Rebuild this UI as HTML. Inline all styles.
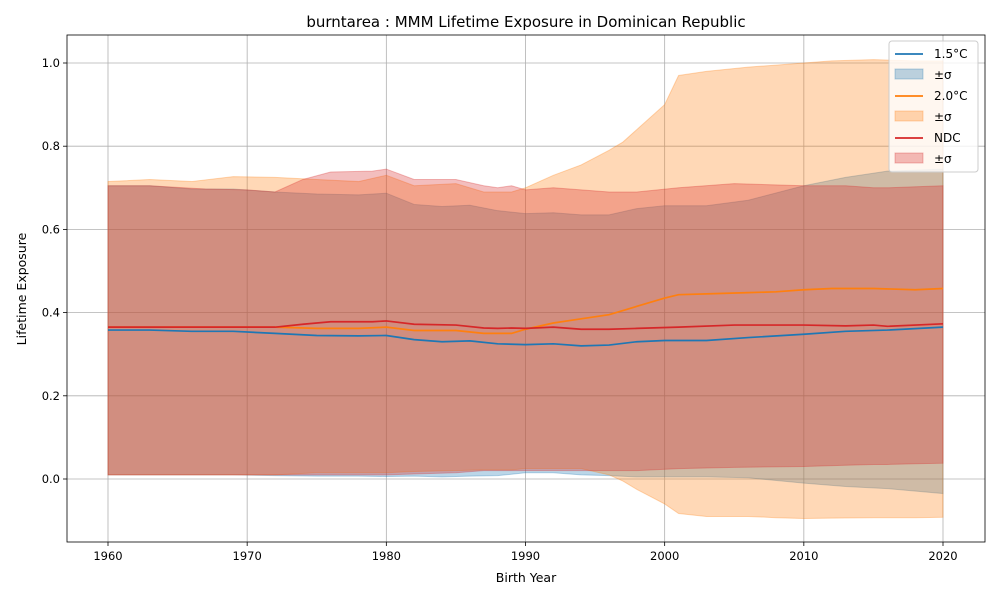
<!DOCTYPE html>
<html><head><meta charset="utf-8"><style>
body{margin:0;background:#fff;font-family:"Liberation Sans","DejaVu Sans",sans-serif}
svg text{font-family:"DejaVu Sans","Liberation Sans",sans-serif}
</style></head><body>
<svg id="chart" width="1000" height="600" xmlns="http://www.w3.org/2000/svg">
<rect width="1000" height="600" fill="#fff"/>
<text x="526" y="27" text-anchor="middle" font-size="15">burntarea : MMM Lifetime Exposure in Dominican Republic</text>
<g id="grid"></g><g id="bands"></g><g id="lines"></g><g id="axes"></g>
<text x="526" y="582" text-anchor="middle" font-size="12.5">Birth Year</text>
<text transform="translate(26,289) rotate(-90)" text-anchor="middle" font-size="12.5">Lifetime Exposure</text>
<g id="legend"></g>
</svg>
<script>
const xTicks=[1960,1970,1980,1990,2000,2010,2020];
const yTicks=[0.0,0.2,0.4,0.6,0.8,1.0];
const yTickLabels=["0.0","0.2","0.4","0.6","0.8","1.0"];
const seriesNames=["1.5°C","2.0°C","NDC"];
const yearsA=[1960,1963,1966,1969,1972,1975,1978,1980,1982,1984,1986,1988,1990,1992,1994,1996,1998,2000,2003,2006,2010,2013,2016,2020];
const mean15=[0.358,0.358,0.355,0.355,0.35,0.345,0.344,0.345,0.335,0.33,0.332,0.325,0.323,0.325,0.32,0.322,0.33,0.333,0.333,0.34,0.348,0.355,0.358,0.365];
const up15=[0.705,0.705,0.697,0.697,0.69,0.685,0.683,0.687,0.66,0.655,0.658,0.645,0.638,0.64,0.635,0.635,0.65,0.657,0.657,0.67,0.705,0.725,0.74,0.745];
const lo15=[0.01,0.01,0.01,0.01,0.008,0.007,0.007,0.006,0.007,0.005,0.007,0.008,0.015,0.015,0.01,0.008,0.005,0.005,0.005,0.003,-0.01,-0.018,-0.023,-0.035];
const yearsB=[1960,1963,1966,1969,1972,1975,1978,1980,1982,1985,1987,1989,1990,1992,1994,1996,1997,1998,2000,2001,2003,2006,2008,2010,2012,2015,2018,2020];
const mean20=[0.365,0.365,0.365,0.365,0.365,0.362,0.362,0.365,0.357,0.357,0.35,0.35,0.36,0.375,0.385,0.395,0.405,0.415,0.435,0.443,0.445,0.448,0.45,0.455,0.458,0.458,0.455,0.458];
const up20=[0.715,0.72,0.715,0.727,0.725,0.72,0.715,0.73,0.705,0.71,0.69,0.69,0.70,0.73,0.755,0.79,0.81,0.84,0.90,0.97,0.98,0.99,0.995,1.0,1.005,1.008,1.005,1.005];
const lo20=[0.01,0.01,0.01,0.01,0.01,0.015,0.015,0.015,0.018,0.02,0.022,0.022,0.025,0.025,0.025,0.01,-0.005,-0.025,-0.06,-0.083,-0.09,-0.09,-0.093,-0.095,-0.094,-0.093,-0.093,-0.092];
const yearsC=[1960,1963,1967,1970,1972,1974,1976,1979,1980,1982,1985,1987,1988,1989,1990,1992,1994,1996,1998,2001,2005,2010,2013,2015,2016,2020];
const meanNDC=[0.365,0.365,0.365,0.365,0.365,0.372,0.378,0.378,0.38,0.372,0.37,0.363,0.362,0.363,0.362,0.365,0.36,0.36,0.362,0.365,0.37,0.37,0.368,0.37,0.367,0.373];
const upNDC=[0.705,0.705,0.697,0.695,0.69,0.72,0.738,0.74,0.745,0.72,0.72,0.705,0.70,0.705,0.695,0.70,0.695,0.69,0.69,0.70,0.71,0.705,0.705,0.70,0.70,0.705];
const loNDC=[0.01,0.01,0.01,0.01,0.01,0.01,0.01,0.01,0.01,0.012,0.015,0.02,0.02,0.02,0.02,0.02,0.02,0.02,0.02,0.025,0.028,0.03,0.033,0.035,0.035,0.038];
const colors=["#1f77b4","#ff7f0e","#d62728"];
const NS="http://www.w3.org/2000/svg";
const L=67,R=985,T=35,B=542;
const xs=v=>108+(v-1960)*(943-108)/60;
const ys=v=>479-v*416;
function mk(tag,attrs,parent){const e=document.createElementNS(NS,tag);for(const k in attrs)e.setAttribute(k,attrs[k]);parent.appendChild(e);return e;}
const grid=document.getElementById('grid'),axes=document.getElementById('axes'),bands=document.getElementById('bands'),lines=document.getElementById('lines'),leg=document.getElementById('legend');
xTicks.forEach(t=>{const x=xs(t);
 const g=mk('line',{x1:x,x2:x,y1:T,y2:B,stroke:'#b0b0b0','stroke-width':0.8},grid);
 
 mk('line',{x1:x,x2:x,y1:B,y2:B+4,stroke:'#000','stroke-width':0.8},axes);
 const tx=mk('text',{x:x,y:B+18,'text-anchor':'middle','font-size':11.5},axes);tx.textContent=t;
 });
yTicks.forEach((t,i)=>{const y=ys(t);
 const g=mk('line',{x1:L,x2:R,y1:y,y2:y,stroke:'#b0b0b0','stroke-width':0.8},grid);
 
 mk('line',{x1:L-4,x2:L,y1:y,y2:y,stroke:'#000','stroke-width':0.8},axes);
 const tx=mk('text',{x:L-7,y:y+4,'text-anchor':'end','font-size':11.5},axes);tx.textContent=yTickLabels[i];
 });
const frame=mk('rect',{x:L,y:T,width:R-L,height:B-T,fill:'none',stroke:'#000','stroke-width':0.8},axes);

const sets=[[yearsA,mean15,up15,lo15],[yearsB,mean20,up20,lo20],[yearsC,meanNDC,upNDC,loNDC]];
sets.forEach((s,i)=>{const [yr,m,u,l]=s;
 const pts=yr.map((y,j)=>xs(y)+','+ys(u[j])).concat(yr.slice().reverse().map((y,j)=>xs(y)+','+ys(l[yr.length-1-j])));
 const band=mk('polygon',{points:pts.join(' '),fill:colors[i],'fill-opacity':0.3,stroke:colors[i],'stroke-opacity':0.3},bands);
 
 const line=mk('polyline',{points:yr.map((y,j)=>xs(y)+','+ys(m[j])).join(' '),fill:'none',stroke:colors[i],'stroke-width':1.7},lines);
 });
const lb=mk('rect',{x:889,y:41,width:89,height:131,rx:3,fill:'#fff','fill-opacity':0.8,stroke:'#ccc'},leg);

seriesNames.forEach((n,i)=>{const y0=54+i*42;
 const ln=mk('line',{x1:895,x2:923,y1:y0,y2:y0,stroke:colors[i],'stroke-width':1.7},leg);
 
 const t=mk('text',{x:934,y:y0+4,'font-size':12},leg);t.textContent=n;
 
 const p=mk('rect',{x:895,y:y0+15,width:28,height:10,fill:colors[i],'fill-opacity':0.3,stroke:colors[i],'stroke-opacity':0.3},leg);
 
 const t2=mk('text',{x:934,y:y0+25,'font-size':12},leg);t2.textContent='±σ';
 });
</script>
</body></html>
